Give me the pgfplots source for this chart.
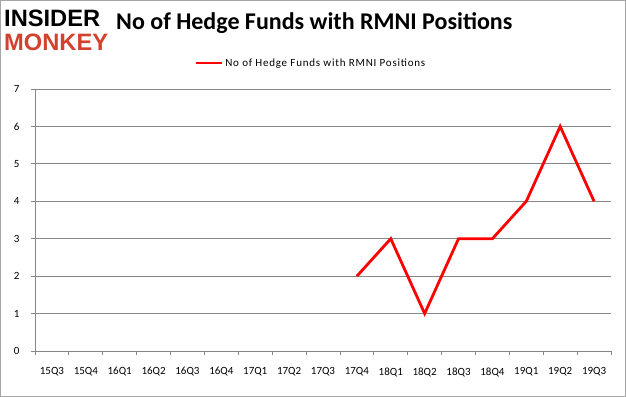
\documentclass[border=0pt]{standalone}
\usepackage{pgfplots}
\pgfplotsset{compat=1.18}
\usepackage{fontspec}
\setmainfont{Carlito}
\newfontfamily\logofont{Liberation Sans}
\definecolor{gridgray}{HTML}{868686}
\definecolor{logored}{HTML}{D2412C}
\begin{document}
\begin{tikzpicture}
\useasboundingbox (0bp,0bp) rectangle (626bp,397bp);
\draw[gray!70, line width=1bp] (0.5bp,0.5bp) rectangle (625.5bp,396.5bp);
% logo
\node[anchor=south west, inner sep=0pt, text=black] at (4bp,370bp) {\resizebox{96bp}{!}{\logofont\bfseries INSIDER}};
\node[anchor=south west, inner sep=0pt, text=logored] at (4bp,346bp) {\resizebox{104bp}{!}{\logofont\bfseries MONKEY}};
% title
\node[anchor=base west, inner sep=0pt] at (116bp,367bp) {\fontsize{24bp}{28bp}\selectfont\bfseries No of Hedge Funds with RMNI Positions};
\begin{axis}[
  at={(35bp,46bp)}, anchor=south west,
  scale only axis, width=576bp, height=262bp,
  xmin=-0.5, xmax=16.5, ymin=0, ymax=7,
  axis lines*=left,
  axis line style={gridgray, line width=0.8bp, -},
  xtick={0,...,16},
  xticklabels={15Q3,15Q4,16Q1,16Q2,16Q3,16Q4,17Q1,17Q2,17Q3,17Q4,18Q1,18Q2,18Q3,18Q4,19Q1,19Q2,19Q3},
  minor xtick={-0.5,0.5,...,16.5},
  ytick={0,...,7},
  major tick length=4bp,
  minor tick length=4bp,
  tick align=outside,
  every major x tick/.append style={draw=none},
  every minor x tick/.append style={draw=gridgray, line width=0.8bp},
  every major y tick/.append style={draw=gridgray, line width=0.8bp},
  ymajorgrids,
  grid style={gridgray, line width=0.8bp},
  ticklabel style={font=\fontsize{11bp}{13bp}\selectfont, text=black},
  /pgf/number format/assume math mode=true,
  xticklabel style={yshift=-9bp},
  yticklabel style={xshift=-8bp},
  legend style={at={(0.479,1.099)}, anchor=center, draw=none, fill=none,
    font=\fontsize{11bp}{13bp}\selectfont\addfontfeature{LetterSpace=7}, inner sep=0pt},
  legend cell align=left,
  legend image code/.code={\draw[#1] (0bp,0bp) -- (26bp,0bp);},
]
\addplot[red, line width=2.8bp] coordinates {
 (9,2) (10,3) (11,1) (12,3) (13,3) (14,4) (15,6) (16,4)
};
\addlegendentry{No of Hedge Funds with RMNI Positions}
\end{axis}
\end{tikzpicture}
\end{document}
